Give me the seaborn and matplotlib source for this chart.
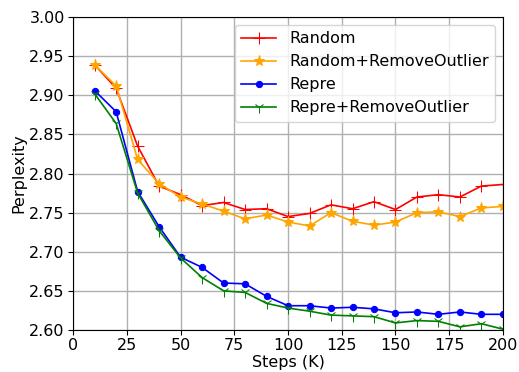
import numpy as np
import pandas as pd
import seaborn as sns
import matplotlib
matplotlib.use("Agg")
import matplotlib.pyplot as plt

# Steps (K)
steps = [10, 20, 30, 40, 50, 60, 70, 80, 90, 100,
         110, 120, 130, 140, 150, 160, 170, 180, 190, 200]

random_ppl = [2.939, 2.909, 2.835, 2.784, 2.773, 2.759, 2.763, 2.754, 2.755, 2.745,
              2.749, 2.760, 2.755, 2.764, 2.754, 2.770, 2.773, 2.770, 2.784, 2.786]
random_ro_ppl = [2.939, 2.912, 2.818, 2.787, 2.770, 2.761, 2.752, 2.742, 2.747, 2.738,
                 2.733, 2.750, 2.739, 2.734, 2.738, 2.750, 2.751, 2.745, 2.756, 2.758]
repre_ppl = [2.906, 2.879, 2.777, 2.732, 2.693, 2.680, 2.660, 2.659, 2.643, 2.631,
             2.631, 2.628, 2.629, 2.627, 2.622, 2.623, 2.620, 2.623, 2.620, 2.620]
repre_ro_ppl = [2.902, 2.864, 2.775, 2.727, 2.692, 2.667, 2.650, 2.648, 2.634, 2.628,
                2.624, 2.619, 2.618, 2.617, 2.609, 2.612, 2.611, 2.604, 2.608, 2.601]

series = [
    ("Random", random_ppl, "red", "+"),
    ("Random+RemoveOutlier", random_ro_ppl, "orange", "*"),
    ("Repre", repre_ppl, "blue", "."),
    ("Repre+RemoveOutlier", repre_ro_ppl, "green", "1"),
]

fig, ax = plt.subplots(figsize=(5.19, 3.72), dpi=100)
fig.subplots_adjust(left=0.141, right=0.969, top=0.954, bottom=0.113)

for name, vals, col, mk in series:
    df = pd.DataFrame({"step": steps, "ppl": vals})
    sns.lineplot(data=df, x="step", y="ppl", ax=ax, color=col, marker=mk,
                 markersize=8 if mk != "." else 9, markeredgecolor=col,
                 markerfacecolor=col, label=name, linewidth=1.2)

ax.set_xlim(0, 200)
ax.set_ylim(2.6, 3.0)
ax.set_xticks(range(0, 201, 25))
ax.set_yticks(np.arange(2.60, 3.001, 0.05))
ax.set_yticklabels([f"{v:.2f}" for v in np.arange(2.60, 3.001, 0.05)])
ax.tick_params(labelsize=11.5, pad=2.5)
ax.grid(True, color="#b0b0b0", linewidth=1)
ax.set_xlabel("Steps (K)", fontsize=11.5, labelpad=1)
ax.set_ylabel("Perplexity", fontsize=11.5, labelpad=2)
ax.legend(loc="upper right", fontsize=11.5, handlelength=2.2)

fig.savefig("out.png", dpi=100)
